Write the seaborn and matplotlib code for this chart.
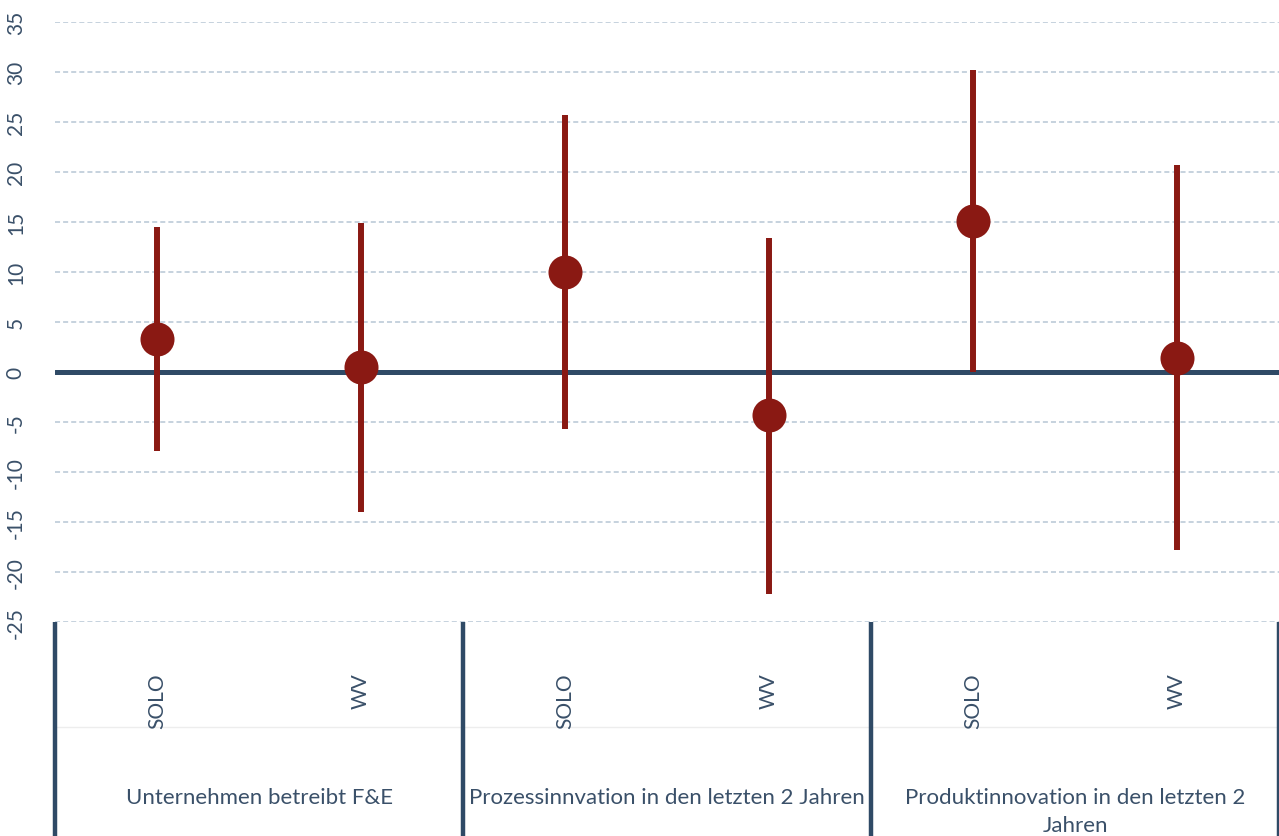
import numpy as np
import pandas as pd
import matplotlib
matplotlib.use("Agg")
import matplotlib.pyplot as plt
import seaborn as sns

# Groups, sub-categories and estimates with their interval bounds
groups = [
    "Unternehmen betreibt F&E",
    "Prozessinnvation in den letzten 2 Jahren",
    "Produktinnovation in den letzten 2\nJahren",
]
subgroups = ["SOLO", "WV"]
estimates = [3.3, 0.5, 10.0, -4.3, 15.1, 1.4]
ci_lower = [-7.9, -14.0, -5.7, -22.2, 0.0, -17.8]
ci_upper = [14.5, 14.9, 25.7, 13.4, 30.2, 20.7]
ytick_values = [-25, -20, -15, -10, -5, 0, 5, 10, 15, 20, 25, 30, 35]
ytick_labels = ["-25", "-20", "-15", "-10", "-5", "0", "5", "10", "15", "20", "25", "30", "35"]

RED = "#8A1913"
NAVY = "#2F4A66"
TEXT = "#3A5069"
GRID = "#B7C6D5"

sns.set_theme(style="white")
plt.rcParams["font.family"] = ["Lato", "DejaVu Sans"]

# Long table: each slot holds lower bound, estimate and upper bound,
# so median = estimate and the 0-100 percentile interval = bounds.
keys = [f"{g}|{s}" for g in range(len(groups)) for s in subgroups]
rows = []
for k, lo, est, hi in zip(keys, ci_lower, estimates, ci_upper):
    for v in (lo, est, hi):
        rows.append({"slot": k, "value": v})
df = pd.DataFrame(rows)

W, H = 1279, 837
fig = plt.figure(figsize=(W / 100, H / 100), dpi=100)
ax_bottom_px = 623.3
ax_h_px = 600.0
ax = fig.add_axes([55 / W, (H - ax_bottom_px) / H, 1 - 55 / W, ax_h_px / H])

# grid and zero line
for yv in ytick_values:
    if yv == 0:
        continue
    ax.axhline(yv, color=GRID, lw=1.1, dashes=(3.3, 2.0), zorder=0)
ax.axhline(0, color=NAVY, lw=3.6, zorder=1)

sns.pointplot(
    data=df, x="slot", y="value", order=keys,
    estimator="median", errorbar=("pi", 100),
    color=RED, linestyle="none", markers="o", markersize=24.5,
    markeredgewidth=0,
    err_kws={"linewidth": 4.3, "solid_capstyle": "butt", "color": RED},
    ax=ax,
)
for coll in ax.collections:
    coll.set_zorder(4)
for ln in ax.lines:
    ln.set_zorder(3)

ax.set_xlim(-0.5, len(keys) - 0.5)
ax.set_ylim(-25, 35)
ax.set_yticks(ytick_values)
ax.set_yticklabels(ytick_labels, rotation=90, va="center", color=TEXT, fontsize=15)
ax.tick_params(axis="y", length=0, pad=21)
ax.set_xticks([])
ax.set_xlabel("")
ax.set_ylabel("")
for sp in ax.spines.values():
    sp.set_visible(False)

# multi-level category axis below the plot
tr = ax.get_xaxis_transform()
fig_bottom = -(H - ax_bottom_px) / ax_h_px
ax.vlines([-0.5, 1.5, 3.5, 5.5], fig_bottom, 0, transform=tr, colors=NAVY,
          lw=3.2, clip_on=False, zorder=5)
ax.hlines((ax_bottom_px - 728) / ax_h_px, -0.5, 5.5, transform=tr,
          colors="#EDEDED", lw=1.0, clip_on=False)

for i, k in enumerate(keys):
    ax.text(i, (ax_bottom_px - 673) / ax_h_px, k.split("|")[1], transform=tr,
            rotation=90, ha="center", va="top", color=TEXT, fontsize=15,
            clip_on=False)
for gi, g in enumerate(groups):
    ax.text(2 * gi + 0.5, (ax_bottom_px - 788) / ax_h_px, g, transform=tr,
            ha="center", va="top", multialignment="center", color=TEXT,
            fontsize=16, linespacing=1.5, clip_on=False)

fig.savefig("out.png", dpi=100)
